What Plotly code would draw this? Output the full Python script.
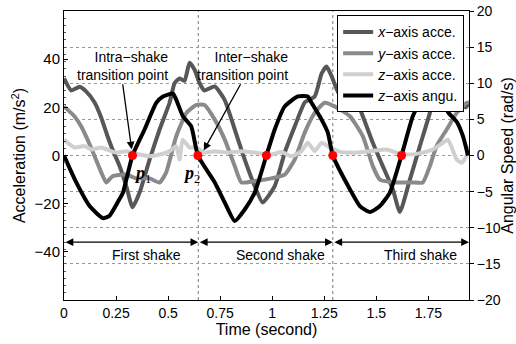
import plotly.graph_objects as go

# ---- data -------------------------------------------------------------
# x-axis acceleration (m/s^2)
t_ax = [0.000, 0.035, 0.075, 0.107, 0.147, 0.179, 0.209, 0.233, 0.267, 0.299,
        0.329, 0.363, 0.411, 0.459, 0.507, 0.531, 0.555, 0.579, 0.603, 0.627,
        0.651, 0.675, 0.724, 0.772, 0.820, 0.868, 0.916, 0.954, 1.012, 1.060,
        1.108, 1.156, 1.204, 1.237, 1.261, 1.285, 1.325, 1.373, 1.435, 1.483,
        1.531, 1.579, 1.613, 1.661, 1.709, 1.757, 1.789, 1.820, 1.853, 1.892,
        1.930, 1.945]
acc_x = [32, 27, 28.5, 26.5, 22, 15.7, 8, 2.5, -4.4, -12.7,
         -21.5, -15.4, -1.7, 10.8, 21.9, 30, 32, 31, 38.5, 35.6,
         30, 27, 28.7, 23, 10.8, -1.7, -12.7, -19.5, -12.7, 1.2,
         12, 22, 24.5, 34, 37, 33, 25, 28.7, 16.3, 5.3,
         -4.4, -14, -23.5, -10, 3.9, 17.7, 28.7, 32, 27, 21,
         20, 22]

# y-axis acceleration (m/s^2)
t_ay = [0.000, 0.050, 0.083, 0.113, 0.147, 0.179, 0.203, 0.233, 0.299, 0.347,
        0.411, 0.459, 0.491, 0.539, 0.588, 0.636, 0.675, 0.724, 0.772, 0.820,
        0.852, 0.916, 0.996, 1.060, 1.108, 1.156, 1.204, 1.252, 1.300, 1.373,
        1.435, 1.483, 1.517, 1.597, 1.675, 1.723, 1.757, 1.789, 1.838, 1.886,
        1.934, 1.945]
acc_y = [20.4, 16.3, 12, 6.6, -0.3, -7, -11.2, -8.6, -7.9, -9.5,
         -9.5, -11.2, -7, 8, 17.7, 21, 21, 14.9, 6.6, -4.4,
         -11.2, -10.6, -9.5, -7.9, -1.7, 9.5, 17.7, 21.9, 20.4, 16.3,
         8, -4.4, -10, -11.2, -11.2, -11.2, -4.4, 3.9, 10.8, 17.7,
         21.9, 22]

# z-axis acceleration (m/s^2)
t_az = [0.000, 0.050, 0.099, 0.131, 0.179, 0.227, 0.252, 0.300, 0.363, 0.411,
        0.459, 0.507, 0.539, 0.555, 0.570, 0.603, 0.636, 0.675, 0.724, 0.786,
        0.852, 0.916, 0.996, 1.044, 1.092, 1.140, 1.171, 1.204, 1.237, 1.267,
        1.300, 1.325, 1.405, 1.469, 1.549, 1.597, 1.661, 1.723, 1.771, 1.820,
        1.844, 1.886, 1.910, 1.934, 1.945]
acc_z = [6.6, 3.3, 3.9, 2.5, 3.3, 1.8, 1.2, 1.8, 0.4, -0.3,
         0.4, 1.8, 3.9, -1.7, 6.6, 3.3, 3.3, 1.2, 1.8, 1.2,
         1.8, 1.2, 0.4, 1.5, -0.3, 1.8, 5.3, 1.8, 5.3, 3.9,
         2.5, 1.5, 1.2, 1.8, 2.5, 1.2, 0.4, 1.2, 2.5, 5.3,
         6.6, -1.7, -3, 0, 4]

# z-axis angular speed (rad/s)
t_gz = [0.000, 0.059, 0.123, 0.187, 0.219, 0.267, 0.283, 0.329, 0.387, 0.443,
        0.475, 0.523, 0.539, 0.571, 0.611, 0.643, 0.724, 0.772, 0.820, 0.868,
        0.916, 0.972, 1.012, 1.060, 1.123, 1.171, 1.188, 1.237, 1.267, 1.291,
        1.373, 1.421, 1.469, 1.517, 1.565, 1.621, 1.675, 1.709, 1.743, 1.805,
        1.844, 1.886, 1.916, 1.940]
gyr_z = [0, -3.73, -7.0, -8.67, -8.33, -6.0, -5.15, 0, 3.6, 7.27,
         8.17, 8.57, 7.73, 5.43, 4.03, 0, -3.73, -6.5, -9.07, -7.47,
         -5.13, 0, 3.6, 6.8, 8.17, 8.17, 7.33, 4.97, 3.17, 0,
         -4.67, -7.0, -7.83, -7.0, -5.13, 0, 5.43, 7.33, 8.67, 8.67,
         6.0, 4.67, 2.67, 0]

# transition points (zero crossings of the angular speed)
t_trans = [0.329, 0.643, 0.972, 1.291, 1.621]
v_trans = [0, 0, 0, 0, 0]

# shake segments
shake_bounds = [0.0, 0.645, 1.291, 1.945]
shake_names = ["First shake", "Second shake", "Third shake"]
shake_label_x = [0.396, 1.041, 1.714]

series_names = ["<i>x</i>−axis acce.", "<i>y</i>−axis acce.",
                "<i>z</i>−axis acce.", "<i>z</i>−axis angu."]
series_colors = ["#575757", "#8a8a8a", "#cfcfcf", "#000000"]

FONT = "Liberation Sans, Arial, sans-serif"
SERIF = "Liberation Serif, Times New Roman, serif"

fig = go.Figure()
for tt, vv, name, col in [(t_ax, acc_x, series_names[0], series_colors[0]),
                          (t_ay, acc_y, series_names[1], series_colors[1]),
                          (t_az, acc_z, series_names[2], series_colors[2])]:
    fig.add_trace(go.Scatter(x=tt, y=vv, name=name, mode="lines",
                             line=dict(color=col, width=4, shape="spline", smoothing=0.5),
                             yaxis="y"))
fig.add_trace(go.Scatter(x=t_gz, y=gyr_z, name=series_names[3], mode="lines",
                         line=dict(color=series_colors[3], width=4, shape="spline", smoothing=0.5),
                         yaxis="y2"))
fig.add_trace(go.Scatter(x=t_trans, y=v_trans, mode="markers", showlegend=False,
                         marker=dict(color="#ff0000", size=9, line=dict(width=0)),
                         yaxis="y2"))

# shake boundaries
for b in shake_bounds[1:3]:
    fig.add_shape(type="line", xref="x", yref="y", x0=b, x1=b, y0=-60, y1=60,
                  line=dict(color="#777777", width=1, dash="dot"), layer="below")

# double-headed arrows for each shake
for i in range(3):
    fig.add_annotation(x=shake_bounds[i + 1], y=-36, ax=shake_bounds[i], ay=-36,
                       xref="x", yref="y", axref="x", ayref="y", text="",
                       showarrow=True, arrowhead=2, arrowside="end+start",
                       arrowsize=1.3, arrowwidth=1.2, arrowcolor="black", standoff=0,
                       startstandoff=0)
    fig.add_annotation(x=shake_label_x[i], y=-41.4, xref="x", yref="y",
                       text=shake_names[i], showarrow=False,
                       font=dict(family=FONT, size=14, color="black"))

# transition point callouts
fig.add_annotation(x=0.507, y=37.3, xref="x", yref="y", xanchor="right",
                   text="Intra−shake<br>transition point", align="right",
                   showarrow=False, font=dict(family=FONT, size=14, color="black"))
fig.add_annotation(x=1.084, y=37.3, xref="x", yref="y", xanchor="right",
                   text="Inter−shake<br>transition point", align="right",
                   showarrow=False, font=dict(family=FONT, size=14, color="black"))
fig.add_annotation(x=0.325, y=2.5, ax=0.281, ay=30.2, xref="x", yref="y",
                   axref="x", ayref="y", text="", showarrow=True, arrowhead=2,
                   arrowsize=1.2, arrowwidth=1.3, arrowcolor="black")
fig.add_annotation(x=0.671, y=2.1, ax=0.852, ay=30.2, xref="x", yref="y",
                   axref="x", ayref="y", text="", showarrow=True, arrowhead=2,
                   arrowsize=1.2, arrowwidth=1.3, arrowcolor="black")

# point labels
fig.add_annotation(x=0.375, y=-8.0, xref="x", yref="y", showarrow=False,
                   text="<b><i>p</i></b><sub>1</sub>",
                   font=dict(family=SERIF, size=18, color="black"))
fig.add_annotation(x=0.614, y=-8.0, xref="x", yref="y", showarrow=False,
                   text="<b><i>p</i></b><sub>2</sub>",
                   font=dict(family=SERIF, size=18, color="black"))

fig.update_layout(
    width=516, height=344,
    margin=dict(l=64, r=47, t=11, b=44),
    paper_bgcolor="white", plot_bgcolor="white",
    font=dict(family=FONT, size=14, color="black"),
    xaxis=dict(range=[0, 1.945], tickvals=[0, 0.25, 0.5, 0.75, 1, 1.25, 1.5, 1.75],
               ticktext=["0", "0.25", "0.5", "0.75", "1", "1.25", "1.5", "1.75"],
               ticks="inside", ticklen=4, tickcolor="black",
               showline=True, linecolor="black", linewidth=1, mirror=True,
               showgrid=False, zeroline=False, automargin=False,
               title=dict(text="Time (second)", font=dict(size=16), standoff=0),
               tickfont=dict(size=14)),
    yaxis=dict(range=[-60, 60], tickvals=[-40, -20, 0, 20, 40],
               ticktext=["−40", "−20", "0", "20", "40"],
               ticks="inside", ticklen=4, tickcolor="black",
               minor=dict(ticks="inside", ticklen=2, dtick=3, tickcolor="#555555"),
               showline=True, linecolor="black", linewidth=1,
               showgrid=False, zeroline=False, automargin=False,
               title=dict(text="Acceleration (m/s<sup>2</sup>)", font=dict(size=16), standoff=4),
               tickfont=dict(size=15)),
    yaxis2=dict(range=[-20, 20], overlaying="y", side="right",
                tickvals=[-20, -15, -10, -5, 0, 5, 10, 15, 20],
                ticktext=["−20", "−15", "−10", "−5", "0", "5", "10", "15", "20"],
                ticks="outside", ticklen=4, tickcolor="black",
                showline=True, linecolor="black", linewidth=1,
                showgrid=True, gridcolor="#999999", griddash="dot", gridwidth=1,
                zeroline=False, automargin=False,
                title=dict(text="Angular Speed (rad/s)", font=dict(size=16), standoff=4),
                tickfont=dict(size=14)),
    legend=dict(x=0.988, xanchor="right", y=0.985, yanchor="top",
                bgcolor="white", bordercolor="black", borderwidth=1,
                font=dict(family=FONT, size=14), itemwidth=30, tracegroupgap=0),
)

fig.write_html("out.html")
